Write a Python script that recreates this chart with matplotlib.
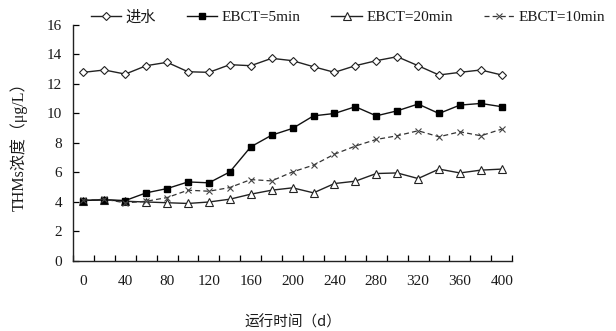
import matplotlib
matplotlib.use("Agg")
import matplotlib.pyplot as plt

# Running time (d) and THMs concentration (ug/L)
days = list(range(0, 401, 20))
influent = [12.79, 12.95, 12.67, 13.24, 13.47, 12.83, 12.79, 13.31, 13.24, 13.74, 13.58,
            13.17, 12.79, 13.24, 13.58, 13.85, 13.24, 12.61, 12.79, 12.95, 12.61]
ebct5 = [4.1, 4.15, 4.1, 4.62, 4.91, 5.36, 5.3, 6.04, 7.74, 8.53, 8.99,
         9.84, 10.0, 10.46, 9.84, 10.18, 10.64, 10.0, 10.57, 10.68, 10.46]
ebct20 = [4.1, 4.15, 4.05, 4.0, 3.95, 3.9, 4.0, 4.19, 4.53, 4.8, 4.96,
          4.62, 5.25, 5.41, 5.93, 5.97, 5.59, 6.23, 5.97, 6.16, 6.23]
ebct10 = [4.12, 4.19, 3.94, 4.05, 4.3, 4.8, 4.73, 4.98, 5.52, 5.43, 6.04,
          6.5, 7.24, 7.79, 8.24, 8.49, 8.83, 8.42, 8.76, 8.49, 8.94]

series_names = ["进水", "EBCT=5min", "EBCT=20min", "EBCT=10min"]
x_labels = [str(d) for d in range(0, 401, 40)]

serif = ["Liberation Serif", "Noto Sans CJK SC"]
cjk = ["Noto Sans CJK SC", "DejaVu Sans"]
txt = "#1a1a1a"

fig = plt.figure(figsize=(6.16, 3.31), dpi=100)
ax = fig.add_axes([0.1185, 0.2115, 0.713, 0.713])

h1, = ax.plot(days, influent, "-", color="#222222", lw=1.0, marker="D", ms=4.2,
              mfc="white", mec="#222222", mew=0.8, zorder=3)
h2, = ax.plot(days, ebct5, "-", color="#111111", lw=1.0, marker="s", ms=5,
              mfc="black", mec="black", zorder=3)
h3, = ax.plot(days, ebct20, "-", color="#222222", lw=1.0, marker="^", ms=5.5,
              mfc="white", mec="#222222", mew=0.8, zorder=2)
h4, = ax.plot(days, ebct10, "--", color="#333333", lw=0.9, marker="x", ms=4.5,
              mec="#444444", mew=0.8, dashes=(4, 2.5), zorder=4)

ax.set_xlim(-10, 410)
ax.set_ylim(0, 16)
ax.set_yticks(range(0, 17, 2))
ax.set_xticks(range(0, 401, 40))
ax.set_xticklabels(x_labels)
ax.set_xticks(range(-10, 411, 20), minor=True)

for s in ["top", "right"]:
    ax.spines[s].set_visible(False)
for s in ["left", "bottom"]:
    ax.spines[s].set_linewidth(1.0)
    ax.spines[s].set_color("#222222")

ax.tick_params(axis="x", which="major", length=0, pad=10)
ax.tick_params(axis="x", which="minor", direction="in", length=4, width=0.9)
ax.tick_params(axis="y", direction="in", length=4, width=0.9, pad=8)
for lab in ax.get_xticklabels() + ax.get_yticklabels():
    lab.set_family(serif)
    lab.set_fontsize(11)
    lab.set_color(txt)

ax.set_xlabel("运行时间（d）", family=cjk, fontsize=10.5, color=txt, labelpad=20)
ax.set_ylabel("THMs浓度（μg/L）", family=serif, fontsize=11.5, color=txt, labelpad=14)

leg = fig.legend([h1, h2, h3, h4], series_names, loc="center",
                 bbox_to_anchor=(0.565, 0.948), ncol=4, frameon=False,
                 handlelength=2.0, columnspacing=2.0, handletextpad=0.3,
                 prop={"family": serif, "size": 11})
for t in leg.get_texts():
    t.set_color(txt)

fig.savefig("out.png", dpi=100)
